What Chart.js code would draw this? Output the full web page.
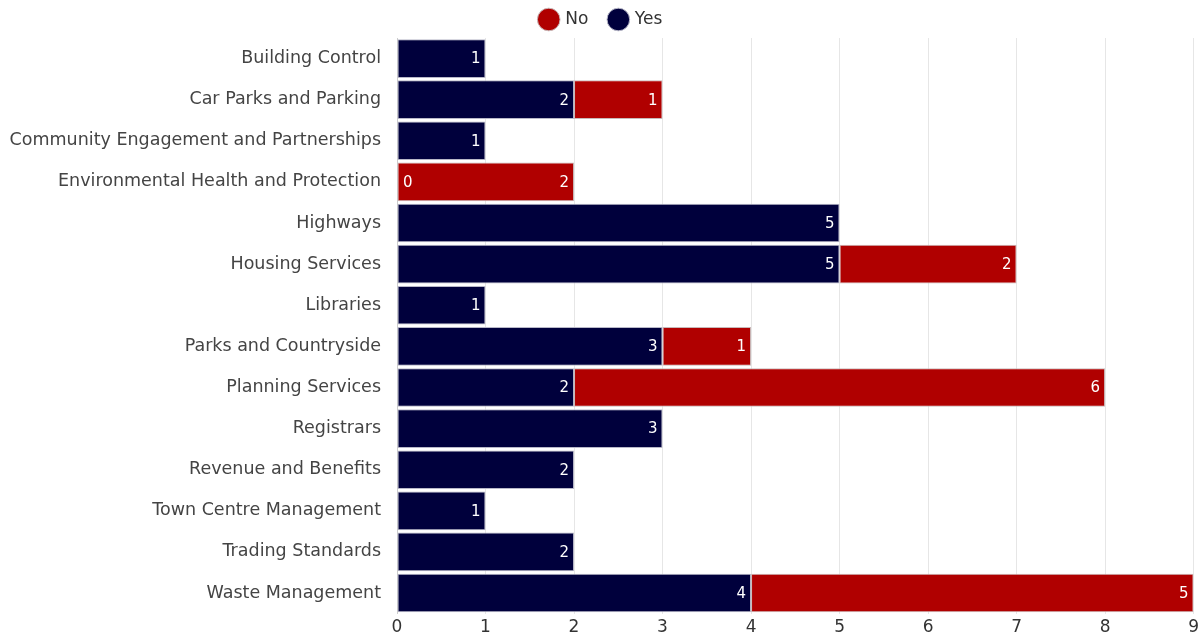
<!DOCTYPE html>
<html>
<head>
<meta charset="utf-8">
<script src="https://cdn.jsdelivr.net/npm/chart.js@4"></script>
<style>
  html, body { margin: 0; padding: 0; background: #fff; }
  #wrap { width: 1203px; height: 634px; }
</style>
</head>
<body>
<div id="wrap"><canvas id="myChart"></canvas></div>
<script>
// categories and values
const services = [
  "Building Control", "Car Parks and Parking", "Community Engagement and Partnerships",
  "Environmental Health and Protection", "Highways", "Housing Services", "Libraries",
  "Parks and Countryside", "Planning Services", "Registrars", "Revenue and Benefits",
  "Town Centre Management", "Trading Standards", "Waste Management"
];
const yesValues = [1, 2, 1, 0, 5, 5, 1, 3, 2, 3, 2, 1, 2, 4];
const noValues = [null, 1, null, 2, null, 2, null, 1, 6, null, null, null, null, 5];
const xTicks = [0, 1, 2, 3, 4, 5, 6, 7, 8, 9];

const FONT = "'DejaVu Sans', Verdana, sans-serif";

// labels at the end of each bar segment
const barLabels = {
  id: "barLabels",
  afterDatasetsDraw(chart) {
    const c = chart.ctx;
    c.save();
    c.font = "15px " + FONT;
    c.fillStyle = "#fff";
    c.textBaseline = "middle";
    chart.data.datasets.forEach((ds, i) => {
      const meta = chart.getDatasetMeta(i);
      meta.data.forEach((bar, j) => {
        const v = ds.data[j];
        if (v === null || v === undefined) return;
        if (v === 0) {
          c.textAlign = "left";
          c.fillText(String(v), bar.x + 6, bar.y + 1);
        } else {
          c.textAlign = "right";
          c.fillText(String(v), bar.x - 5, bar.y + 1);
        }
      });
    });
    c.restore();
  }
};

const ctx = document.getElementById("myChart").getContext("2d");

new Chart(ctx, {
  type: "bar",
  data: {
    labels: services,
    datasets: [
      {
        label: "Yes",
        data: yesValues,
        backgroundColor: "#00003c",
        borderColor: "#b8b8c8",
        borderWidth: 1,
        borderSkipped: false
      },
      {
        label: "No",
        data: noValues,
        backgroundColor: "#b00000",
        borderColor: "#c8b8b8",
        borderWidth: 1,
        borderSkipped: false
      }
    ]
  },
  options: {
    indexAxis: "y",
    responsive: true,
    maintainAspectRatio: false,
    animation: false,
    layout: { padding: { left: 4, right: 4, top: -11, bottom: -8 } },
    datasets: { bar: { barPercentage: 0.94, categoryPercentage: 1 } },
    plugins: {
      legend: {
        position: "top",
        reverse: true,
        labels: {
          usePointStyle: true,
          pointStyle: "circle",
          boxWidth: 16,
          boxHeight: 16,
          padding: 22,
          color: "#333",
          font: { family: FONT, size: 17 }
        }
      },
      tooltip: { enabled: false }
    },
    scales: {
      x: {
        stacked: true,
        min: 0,
        max: 9,
        afterBuildTicks(axis) {
          axis.ticks = xTicks.map(v => ({ value: v }));
        },
        grid: { color: "#e6e6e6", drawTicks: false },
        border: { display: false },
        ticks: {
          color: "#333",
          padding: 4,
          font: { family: FONT, size: 17 }
        }
      },
      y: {
        stacked: true,
        afterFit(axis) {
          axis.width = 393;
        },
        grid: { display: false, drawTicks: true, tickLength: 12 },
        border: { display: true, color: "#ccc" },
        ticks: {
          color: "#444",
          padding: 4,
          font: { family: FONT, size: 17.5 }
        }
      }
    }
  },
  plugins: [barLabels]
});
</script>
</body>
</html>
